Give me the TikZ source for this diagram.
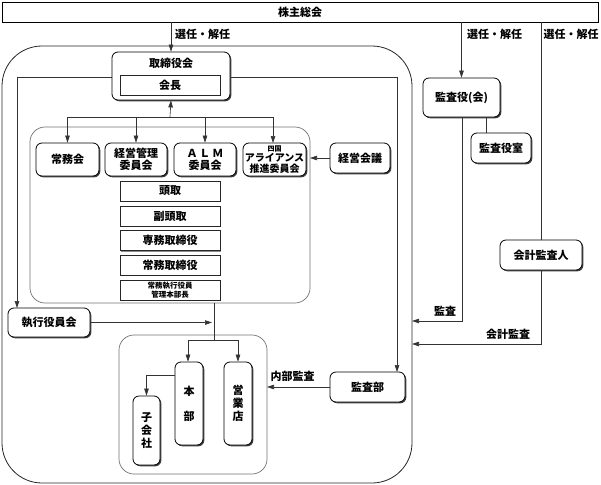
\documentclass[tikz,border=0pt]{standalone}
\usepackage{fontspec}
\setmainfont{Noto Sans CJK JP}
\usetikzlibrary{shadows,arrows.meta}
\begin{document}
\begin{tikzpicture}[x=1pt,y=-1pt,
  every node/.append style={font=\bfseries\fontsize{11}{13}\selectfont},
  rbox/.style={draw=black, line width=0.8pt, fill=white, rounded corners=6pt, inner sep=0pt, align=center,
    drop shadow={shadow xshift=1.3pt, shadow yshift=-1.3pt, fill=black!75, opacity=1}},
  sbox/.style={draw=black!85, line width=0.6pt, fill=white, inner sep=0pt, align=center,
    drop shadow={shadow xshift=1pt, shadow yshift=-1pt, fill=black!45, opacity=1}},
  grayframe/.style={draw=black!55, line width=0.7pt, rounded corners=15pt},
  conn/.style={draw=black!80, line width=0.6pt},
  arr/.style={conn, -{Triangle[length=7pt,width=4.5pt]}},
  lbl/.style={inner sep=0pt}
]
\useasboundingbox (0,0) rectangle (601,484);
\fill[white] (0,0) rectangle (601,484);

% frames
\draw[draw=black!85, line width=0.8pt, rounded corners=40pt] (2,46) rectangle (412,483);
\draw[grayframe] (30,127) rectangle (310,303);
\draw[grayframe] (119,335) rectangle (267,474);

% bracket line from board
\coordinate (bl) at (17,77);
\coordinate (br) at (397,77);
\draw[arr] (bl) -- (17,308);
\draw[conn] (bl) -- (br);
\draw[arr] (br) -- (397,372);

% top bar
\node[sbox, draw=black, line width=0.8pt, minimum width=596pt, minimum height=20pt,
  drop shadow={shadow xshift=1.3pt, shadow yshift=-1.3pt, fill=black!75, opacity=1}] (kabu) at (300,12) {株主総会};

% board of directors
\node[rbox, minimum width=118pt, minimum height=48pt] (tori) at (171,76) {};
\node[lbl] (toriT) at (171,63) {取締役会};
\node[sbox, minimum width=100pt, minimum height=20pt, drop shadow={shadow xshift=0.6pt, shadow yshift=-0.6pt, fill=black!30, opacity=1}] (kaicho) at (170,85) {会長};

% committees
\node[rbox, minimum width=63pt, minimum height=33pt] (jomu) at (67.5,159.5) {常務会};
\node[rbox, minimum width=62pt, minimum height=33pt] (keikan) at (136,159.5) {経営管理\\[-1pt]委員会};
\node[rbox, minimum width=62pt, minimum height=33pt] (alm) at (205,159.5) {Ａ\kern2ptＬ\kern2ptＭ\\[-1pt]委員会};
\node[rbox, minimum width=63pt, minimum height=33pt] (shikoku) at (274.5,159.5)
  {{\fontsize{7}{7}\selectfont 四国}\\[-2.5pt]{\fontsize{10}{10}\selectfont アライアンス}\\[-2.5pt]{\fontsize{10}{10}\selectfont 推進委員会}};
\node[rbox, minimum width=60pt, minimum height=30pt] (kaigi) at (360,158) {経営会議};
\coordinate (midR) at (310,158);

% stack
\node[sbox, minimum width=100pt, minimum height=20pt] (s1) at (170,191) {頭取};
\node[sbox, minimum width=100pt, minimum height=20pt] (s2) at (170,216) {副頭取};
\node[sbox, minimum width=100pt, minimum height=20pt] (s3) at (170,240.5) {専務取締役};
\node[sbox, minimum width=100pt, minimum height=20pt] (s4) at (170,265) {常務取締役};
\node[sbox, minimum width=100pt, minimum height=20pt, font=\bfseries\fontsize{7.5}{8.5}\selectfont] (s5) at (170,290) {常務執行役員\\管理本部長};

% executive officers
\node[rbox, minimum width=82pt, minimum height=29pt] (shikko) at (49,322.5) {執行役員会};

% branches
\node[rbox, minimum width=28pt, minimum height=83pt] (honbu) at (189,403.5) {本\\[12pt]部};
\node[rbox, minimum width=28pt, minimum height=83pt] (eigyo) at (238,403.5) {営\\業\\店};
\node[rbox, minimum width=27pt, minimum height=69pt] (kogai) at (146.5,430.5) {子\\会\\社};

% audit
\node[rbox, minimum width=75pt, minimum height=30pt] (kansabu) at (367.5,387) {監査部};
\node[rbox, minimum width=77pt, minimum height=39pt] (kansayaku) at (461.5,97.5) {監査役(会)};
\node[rbox, minimum width=60pt, minimum height=30pt] (shitsu) at (501,148) {監査役室};
\node[rbox, minimum width=82pt, minimum height=30pt] (kaikei) at (541,255) {会計監査人};

% connectors
\draw[arr] (kabu.south -| tori.north) -- (tori.north);
\node[lbl] (l1) at (202.5,34) {選任・解任};
\draw[arr] (kabu.south -| kansayaku.north) -- (kansayaku.north);
\node[lbl] (l2) at (494.5,34) {選任・解任};
\draw[conn] (kabu.south -| kaikei.north) -- (kaikei.north);
\node[lbl] (l3) at (571,34) {選任・解任};

\coordinate (hub) at (170,117);
\draw[arr] (hub) -- (tori.south);
\draw[conn] (hub -| jomu.north) -- (hub -| 273,0);
\draw[arr] (hub -| jomu.north) -- (jomu.north);
\draw[arr] (hub -| keikan.north) -- (keikan.north);
\draw[arr] (hub -| alm.north) -- (alm.north);
\draw[arr] (273,117) -- (273,143);

\draw[arr] (kaigi.west) -- (midR);

\coordinate (dn) at (214,303);
\coordinate (dh) at (214,340);
\draw[conn] (dn) -- (dh);
\draw[conn] (188,340) -- (238,340);
\draw[arr] (188,340) -- (honbu.north -| 188,0);
\draw[arr] (eigyo.north |- dh) -- (eigyo.north);
\draw[arr] (shikko.east) -- (212,322.5);

\draw[arr] (honbu.west |- 0,375) -- (146.5,375) -- (kogai.north);

\draw[arr] (kansabu.west) -- (267,387);
\node[lbl] (l4) at (292.5,376) {内部監査};

\draw[conn] (shitsu.north -| 486,0) -- (486,117);
\draw[arr] (462,117) -- (462,321) -- (412,321);
\node[lbl] (l5) at (445,311) {監査};
\draw[arr] (kaikei.south) -- (541,344) -- (412,344);
\node[lbl] (l6) at (508,334) {会計監査};
\end{tikzpicture}
\end{document}
